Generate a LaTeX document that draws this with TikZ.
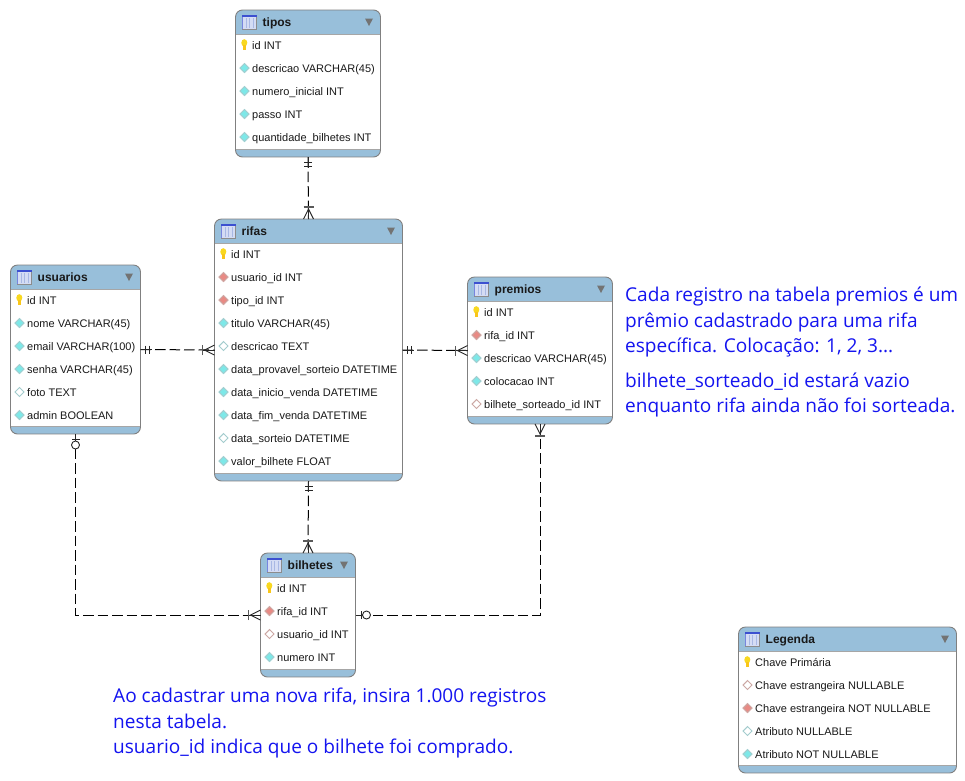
\documentclass[tikz,border=0pt]{standalone}
\usepackage{fontspec}
\setmainfont{Liberation Sans}
\newfontfamily\notefont{Open Sans}
\usetikzlibrary{calc}
\definecolor{hdrblue}{HTML}{98BFDA}
\definecolor{tblborder}{HTML}{808080}
\definecolor{notecol}{HTML}{1414F0}
\definecolor{cyanfill}{HTML}{7DE8E8}
\definecolor{cyanline}{HTML}{A4CCCE}
\definecolor{redfill}{HTML}{E88A84}
\definecolor{redline}{HTML}{CCA8A4}
\definecolor{keyfill}{HTML}{F8D820}
\definecolor{glyphblue}{HTML}{3C50D0}
\definecolor{glyphfill}{HTML}{D4DCF4}
\definecolor{glyphbar}{HTML}{A8B8E4}
\tikzset{
  x=1pt,y=-1pt,
  tblframe/.style={draw=tblborder,line width=.9pt,rounded corners=7pt,inner sep=0pt,outer sep=0pt},
  rowtext/.style={anchor=base west,inner sep=0pt,font=\fontsize{11}{13}\selectfont,text=black!90},
  titletext/.style={anchor=base west,inner sep=0pt,font=\fontsize{12}{14}\selectfont\bfseries,text=black!90},
  notetext/.style={anchor=north west,inner sep=0pt,align=left,text=notecol,font=\notefont\fontsize{19.05}{25.4}\selectfont},
  rel/.style={draw=black,line width=1pt,dash pattern=on 10.5pt off 4pt},
  mark line/.style={draw=black!85,line width=.9pt},
  mark bar/.style={draw=black!65,line width=1.4pt},
  pics/manyend/.style={code={
    \draw[mark line] (0,0)--(12,0);
    \draw[mark line] (0,-5)--(10,0)--(0,5);
    \draw[mark bar] (12,-5)--(12,5);
  }},
  pics/oneend/.style={code={
    \draw[mark line] (0,0)--(11,0);
    \draw[mark line] (5,-4)--(5,4);
    \draw[mark line] (9,-4)--(9,4);
  }},
  pics/zeroend/.style={code={
    \draw[mark line] (0,0)--(7,0);
    \draw[mark line] (5.5,-4)--(5.5,4);
    \draw[mark line,fill=white] (11,0) circle[radius=4pt];
  }},
}
\newcommand{\diamondicon}[4]{%
  \fill[#3] (#1-5,#2)--(#1,#2-5)--(#1+5,#2)--(#1,#2+5)--cycle;
  \draw[#4,line width=.9pt] (#1-4.4,#2)--(#1,#2-4.4)--(#1+4.4,#2)--(#1,#2+4.4)--cycle;}
\newcommand{\iconk}[2]{%
  \fill[keyfill] (#1-.2,#2-2.2) ellipse[x radius=3pt,y radius=3.6pt];
  \fill[keyfill!80!orange] (#1-1.3,#2) rectangle (#1+1,#2+5);}
\newcommand{\iconf}[2]{\diamondicon{#1}{#2}{redfill}{redline}}
\newcommand{\icong}[2]{\diamondicon{#1}{#2}{white}{redline}}
\newcommand{\icona}[2]{\diamondicon{#1}{#2}{cyanfill}{cyanline}}
\newcommand{\icono}[2]{\diamondicon{#1}{#2}{white}{cyanline}}
% name, left, top, right, bottom, title, rows
\newcommand{\ertable}[7]{%
  \begin{scope}
    \clip[rounded corners=7pt] (#2,#3) rectangle (#4,#5);
    \fill[white] (#2,#3) rectangle (#4,#5);
    \fill[hdrblue] (#2,#3) rectangle (#4,#3+24.5);
    \fill[hdrblue] (#2,#5-8) rectangle (#4,#5);
    \draw[black!35,line width=.8pt] (#2,#3+24.5)--(#4,#3+24.5);
    \draw[black!35,line width=.8pt] (#2,#5-8)--(#4,#5-8);
  \end{scope}
  \node[tblframe,draw=black!50,minimum width={(#4-(#2))*1pt},minimum height={(#5-(#3))*1pt}] (#1) at ({(#2+#4)/2},{(#3+#5)/2}) {};
  % table glyph
  \fill[glyphfill] (#2+6.5,#3+5.5) rectangle (#2+20.5,#3+19);
  \foreach \gx in {10.5,14,17.5}{\draw[glyphbar,line width=1pt] (#2+\gx,#3+8)--(#2+\gx,#3+18);}
  \draw[black!45,line width=.9pt] (#2+20.5,#3+5.5)--(#2+20.5,#3+19)--(#2+6.5,#3+19);
  \draw[glyphblue!70!white,line width=.9pt] (#2+6.5,#3+19)--(#2+6.5,#3+5.5);
  \fill[glyphblue] (#2+6,#3+5) rectangle (#2+21,#3+6.8);
  \node[titletext] (#1-title) at (#2+27,#3+16) {#6};
  \fill[black!55] (#4-15.5,#3+8.5)--(#4-7.5,#3+8.5)--(#4-11.5,#3+16)--cycle;
  \foreach \ic/\tx [count=\ri from 0] in {#7}{%
    \csname icon\ic\endcsname{#2+9}{#3+35+23*\ri}
    \node[rowtext] (#1-\ri) at (#2+16.5,#3+39+23*\ri) {\tx};
  }%
}
\begin{document}
\begin{tikzpicture}
\useasboundingbox (0,0) rectangle (965,780);
\fill[white] (0,0) rectangle (965,780);
\ertable{tipos}{235.5}{10}{380.5}{157}{tipos}{k/id INT,a/descricao VARCHAR(45),a/numero\_inicial INT,a/passo INT,a/quantidade\_bilhetes INT}
\ertable{rifas}{214.5}{219}{402.5}{481}{rifas}{k/id INT,f/usuario\_id INT,f/tipo\_id INT,a/titulo VARCHAR(45),o/descricao TEXT,a/data\_provavel\_sorteio DATETIME,a/data\_inicio\_venda DATETIME,a/data\_fim\_venda DATETIME,o/data\_sorteio DATETIME,a/valor\_bilhete FLOAT}
\ertable{usuarios}{10.5}{265}{140.5}{434}{usuarios}{k/id INT,a/nome VARCHAR(45),a/email VARCHAR(100),a/senha VARCHAR(45),o/foto TEXT,a/admin BOOLEAN}
\ertable{premios}{467.5}{277}{612.5}{424}{premios}{k/id INT,f/rifa\_id INT,a/descricao VARCHAR(45),a/colocacao INT,g/bilhete\_sorteado\_id INT}
\ertable{bilhetes}{260.5}{553}{355.5}{677}{bilhetes}{k/id INT,f/rifa\_id INT,g/usuario\_id INT,a/numero INT}
\ertable{legenda}{738.5}{627}{956.5}{773}{Legenda}{k/Chave Primária,g/Chave estrangeira NULLABLE,f/Chave estrangeira NOT NULLABLE,o/Atributo NULLABLE,a/Atributo NOT NULLABLE}
% connectors
\draw[rel] (tipos.south) -- (rifas.north);
\draw[rel] (rifas.south) -- (bilhetes.north);
\draw[rel] (usuarios.east) -- (rifas.west);
\draw[rel] (rifas.east) -- (premios.west);
\draw[rel] (usuarios.south) -- (usuarios.south |- bilhetes.west) -- (bilhetes.west);
\draw[rel] (premios.south) -- (premios.south |- bilhetes.east) -- (bilhetes.east);
% relationship ends
\pic[rotate=-90] at (tipos.south) {oneend};
\pic[rotate=90] at (rifas.north) {manyend};
\pic[rotate=-90] at (rifas.south) {oneend};
\pic[rotate=90] at (bilhetes.north) {manyend};
\pic at (usuarios.east) {oneend};
\pic[rotate=180] at (rifas.west) {manyend};
\pic at (rifas.east) {oneend};
\pic[rotate=180] at (premios.west) {manyend};
\pic[rotate=-90] at (usuarios.south) {zeroend};
\pic[rotate=180] at (bilhetes.west) {manyend};
\pic[rotate=-90] at (premios.south) {manyend};
\pic at (bilhetes.east) {zeroend};
% notes
\node[notetext] (note1) at (625,287) {Cada registro na tabela premios é um\\prêmio cadastrado para uma rifa\\específica. Colocação: 1, 2, 3...};
\node[notetext] (note2) at (625,372.5) {bilhete\_sorteado\_id estará vazio\\enquanto rifa ainda não foi sorteada.};
\node[notetext] (note3) at (113,688) {Ao cadastrar uma nova rifa, insira 1.000 registros\\nesta tabela.\\usuario\_id indica que o bilhete foi comprado.};
\end{tikzpicture}
\end{document}
